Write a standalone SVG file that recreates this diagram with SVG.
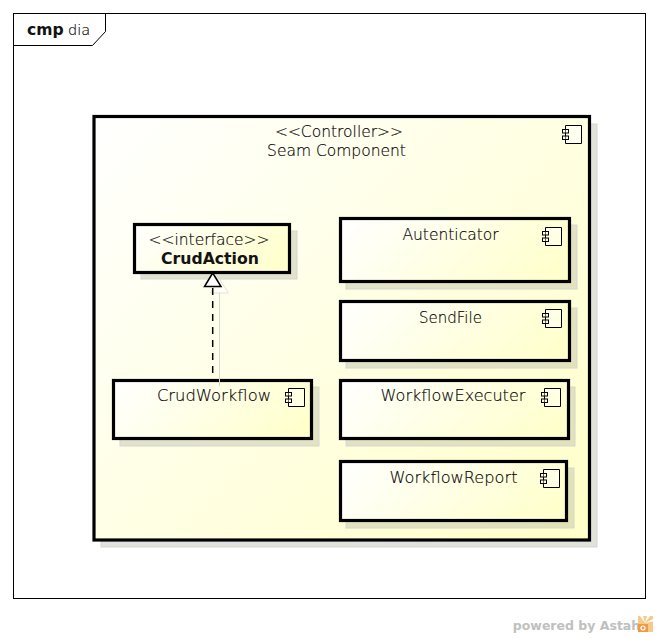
<svg xmlns="http://www.w3.org/2000/svg" width="658" height="638" viewBox="0 0 658 638">
<style>
text{font-family:"DejaVu Sans ExtraLight","DejaVu Sans",sans-serif;font-weight:200;font-size:15.500px;fill:#000;stroke:#000;stroke-width:.15px;text-anchor:middle;opacity:.99}
.b{font-family:"DejaVu Sans","Liberation Sans",sans-serif;font-weight:700;fill:#111;stroke:none}
.shadow{fill:#a0a08a;fill-opacity:.3;stroke:#d6d6d0;stroke-width:1}
.node{stroke:#000;stroke-width:3.200}
.ic{fill:#fff;fill-opacity:.4;stroke:#000;stroke-width:1}
</style>
<defs>
<linearGradient id="g"><stop offset="0" stop-color="#ffffff"/><stop offset="1" stop-color="#ffffc8"/></linearGradient>
<linearGradient id="g1" href="#g" gradientUnits="userSpaceOnUse" x1="94" y1="116.500" x2="553.500" y2="576"/>
<linearGradient id="g2" href="#g" gradientUnits="userSpaceOnUse" x1="134.500" y1="224.500" x2="236" y2="326"/>
<linearGradient id="g3" href="#g" gradientUnits="userSpaceOnUse" x1="113.500" y1="380.500" x2="241.500" y2="508.500"/>
<linearGradient id="g4" href="#g" gradientUnits="userSpaceOnUse" x1="340.500" y1="218.500" x2="486.500" y2="364.500"/>
<linearGradient id="g5" href="#g" gradientUnits="userSpaceOnUse" x1="340.500" y1="301.500" x2="484.500" y2="445.500"/>
<linearGradient id="g6" href="#g" gradientUnits="userSpaceOnUse" x1="340.500" y1="380.500" x2="483.500" y2="523.500"/>
<linearGradient id="g7" href="#g" gradientUnits="userSpaceOnUse" x1="340.500" y1="461.500" x2="483" y2="604"/>
<g id="icon"><path class="ic" d="M3.500.5H19.500V18.500H3.500Z"/><rect class="ic" x=".5" y="4.500" width="6" height="3.500" style="fill:#fffff0"/><rect class="ic" x=".5" y="11" width="6" height="3.500" style="fill:#fffff0"/></g>
</defs>
<rect width="658" height="638" fill="#fff"/>
<g id="frame">
<rect x="13.500" y="13.500" width="632" height="585" fill="#fff" stroke="#000"/>
<path d="M13.500 45.500H92.500L105.500 31.500V13.500" fill="none" stroke="#000"/>
<text class="b" x="27" y="35" style="text-anchor:start;font-size:15.600px">cmp</text>
<text x="68" y="35" style="text-anchor:start;font-size:14.500px">dia</text>
</g>
<g id="seam-component">
<rect class="shadow" x="101" y="124" width="496" height="423"/>
<rect class="node" fill="url(#g1)" x="94" y="116.500" width="495.500" height="423.500"/>
<use href="#icon" x="562" y="125"/>
<text x="339" y="137">&lt;&lt;Controller&gt;&gt;</text>
<text x="336.500" y="156">Seam Component</text>
</g>
<g id="crud-action">
<rect class="shadow" x="141" y="231" width="156" height="48"/>
<rect class="node" fill="url(#g2)" x="134.500" y="224.500" width="155" height="48"/>
<text x="209" y="245">&lt;&lt;interface&gt;&gt;</text>
<text class="b" x="210" y="264" style="font-size:15.700px">CrudAction</text>
</g>
<g id="crud-workflow">
<rect class="shadow" x="120" y="387" width="199" height="59"/>
<rect class="node" fill="url(#g3)" x="113.500" y="380.500" width="198" height="58"/>
<use href="#icon" x="285" y="388"/>
<text x="214" y="401" style="font-size:16.400px">CrudWorkflow</text>
</g>
<g id="autenticator">
<rect class="shadow" x="346" y="225" width="231" height="64"/>
<rect class="node" fill="url(#g4)" x="340.500" y="218.500" width="229" height="63"/>
<use href="#icon" x="542" y="227"/>
<text x="450.500" y="240">Autenticator</text>
</g>
<g id="send-file">
<rect class="shadow" x="346" y="308" width="231" height="60"/>
<rect class="node" fill="url(#g5)" x="340.500" y="301.500" width="229" height="59"/>
<use href="#icon" x="542" y="309"/>
<text x="450.500" y="323" style="font-size:15px">SendFile</text>
</g>
<g id="workflow-executer">
<rect class="shadow" x="346" y="387" width="229" height="59"/>
<rect class="node" fill="url(#g6)" x="340.500" y="380.500" width="228" height="58"/>
<use href="#icon" x="541" y="388"/>
<text x="453" y="401" style="font-size:16.100px">WorkflowExecuter</text>
</g>
<g id="workflow-report">
<rect class="shadow" x="346" y="468" width="228" height="60"/>
<rect class="node" fill="url(#g7)" x="340.500" y="461.500" width="226" height="59"/>
<use href="#icon" x="540" y="469"/>
<text x="453.500" y="483" style="font-size:16.200px">WorkflowReport</text>
</g>
<g id="connectors">
<path d="M219.500 292V386" stroke="#d8d8d0" fill="none"/>
<path d="M219.500 279L228.500 293H210.500Z" fill="#fff" fill-opacity=".6" stroke="#e2e2dc"/>
<path d="M212.700 288V374" stroke="#000" stroke-width="1.500" stroke-dasharray="7 6" fill="none"/>
<path d="M212.700 273L204.500 286.500H221Z" fill="#fff" stroke="#000" stroke-width="1.500"/>
</g>
<g id="watermark">
<text x="576.500" y="630" style="font-family:'DejaVu Sans',sans-serif;font-weight:700;font-size:12.500px;fill:#c0c0c0;stroke:none">powered by Astah</text>
<rect x="638" y="616" width="15" height="16" fill="#f7c98a"/>
<path d="M645 623L640 616H643ZM645 623L647 616H650ZM645 623L653 619V621.500Z" fill="#fff"/>
<path d="M638 624H648V632H638Z" fill="#ee9a45"/>
<circle cx="643" cy="628" r="2" fill="none" stroke="#fff" stroke-width="1.200"/>
</g>
</svg>
